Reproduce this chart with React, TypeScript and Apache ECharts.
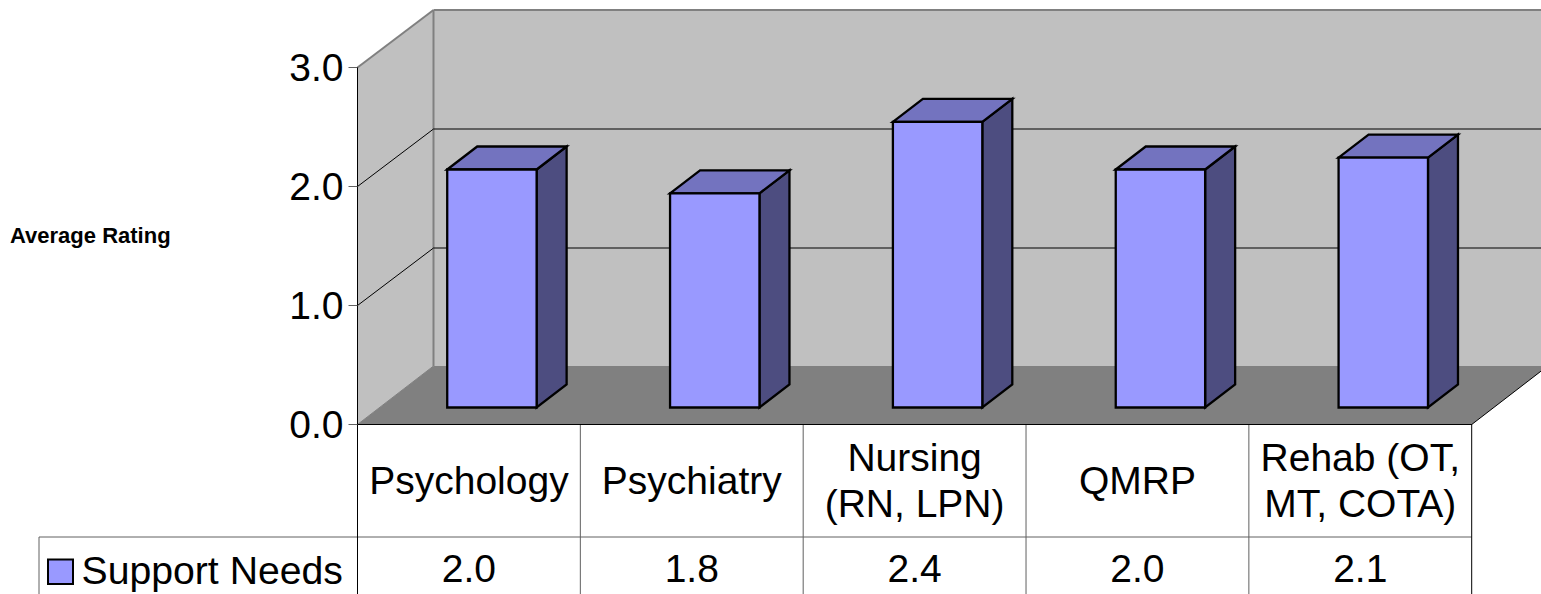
import React, { useEffect, useRef } from "react";
import * as echarts from "echarts";

const categories = ["Psychology", "Psychiatry", "Nursing\n(RN, LPN)", "QMRP", "Rehab (OT,\nMT, COTA)"];
const seriesName = "Support Needs";
const supportNeeds = [2.0, 1.8, 2.4, 2.0, 2.1];
const valueTicks = [0, 1, 2, 3];
const axisTitle = "Average Rating";

const FONT = "Liberation Sans, Arial, sans-serif";
const FONT_SIZE = 39;
const WALL_DX = 76;
const WALL_DY = -57.5;
const FLOOR_DY = -58.5;
const BAR_DX = 23;
const BAR_DY = -17;
const BAR_HALF = 44.7;
const BAR_DEPTH_X = 30;
const BAR_DEPTH_Y = -23;
const PAGE_H = 594;

function renderFrame(params: any, api: any) {
  if (params.dataIndex !== 0) return { type: "group", children: [] };
  const cs = params.coordSys;
  const left = cs.x;
  const right = cs.x + cs.width;
  const top = api.coord([0, valueTicks[valueTicks.length - 1]])[1];
  const bottom = api.coord([0, 0])[1];
  const gray = "#808080";
  const poly = (points: number[][], fill: string, stroke = "none", lineWidth = 0) => ({
    type: "polygon",
    shape: { points },
    style: { fill, stroke, lineWidth },
  });
  const line = (x1: number, y1: number, x2: number, y2: number, stroke: string, lineWidth = 1) => ({
    type: "line",
    shape: { x1, y1, x2, y2 },
    style: { stroke, lineWidth, fill: "none" },
  });
  const bl = left + WALL_DX;
  const br = right + WALL_DX;
  const bTop = top + WALL_DY;
  const bBottom = bottom + FLOOR_DY;
  const children: any[] = [
    poly([[left, top], [bl, bTop], [br, bTop], [br, bBottom], [bl, bBottom], [left, bottom]], "#C0C0C0"),
    poly([[left, bottom], [bl, bBottom], [br, bBottom], [right, bottom]], gray),
    line(left, top, bl, bTop, gray, 2),
    line(bl, bTop, br, bTop, gray, 2),
    line(bl, bTop, bl, bBottom, gray, 2),
    line(left, bottom, bl, bBottom, gray, 1),
    line(right, bottom, br, bBottom, "#000", 1),
  ];
  valueTicks.slice(1, -1).forEach((t) => {
    const y = api.coord([0, t])[1];
    children.push(line(left, y, bl, y + WALL_DY, "#000", 1));
    children.push(line(bl, y + WALL_DY, br, y + WALL_DY, "#000", 1));
  });
  const rowY = 537;
  const step = cs.width / categories.length;
  for (let i = 1; i < categories.length; i++) {
    children.push(line(left + step * i, bottom, left + step * i, PAGE_H, "#606060", 1));
  }
  children.push(line(39, rowY, right, rowY, "#606060", 1));
  children.push(line(39, rowY, 39, PAGE_H, "#606060", 1));
  children.push(line(left, bottom, left, PAGE_H, "#000", 1));
  children.push(line(right, bottom, right, PAGE_H, "#000", 1));
  children.push({
    type: "rect",
    shape: { x: 48, y: 559.5, width: 25, height: 24.5 },
    style: { fill: "#9999FF", stroke: "#000", lineWidth: 2 },
  });
  return { type: "group", children };
}

function renderBar(_params: any, api: any) {
  const idx = api.value(0);
  const [cx, topRaw] = api.coord([idx, api.value(1)]);
  const bottomRaw = api.coord([idx, 0])[1];
  const x0 = cx + BAR_DX - BAR_HALF;
  const x1 = cx + BAR_DX + BAR_HALF;
  const yT = topRaw + BAR_DY;
  const yB = bottomRaw + BAR_DY;
  const dx = BAR_DEPTH_X;
  const dy = BAR_DEPTH_Y;
  const face = (points: number[][], fill: string) => ({
    type: "polygon",
    shape: { points },
    style: { fill, stroke: "#000", lineWidth: 2.3, lineJoin: "miter" },
  });
  return {
    type: "group",
    children: [
      face([[x1, yT], [x1 + dx, yT + dy], [x1 + dx, yB + dy], [x1, yB]], "#4D4D80"),
      face([[x0, yT], [x0 + dx, yT + dy], [x1 + dx, yT + dy], [x1, yT]], "#7373BF"),
      face([[x0, yT], [x1, yT], [x1, yB], [x0, yB]], "#9999FF"),
    ],
  };
}

export default function App() {
  const ref = useRef<HTMLDivElement>(null);
  useEffect(() => {
    document.body.style.margin = "0";
    document.body.style.overflow = "hidden";
    const chart = echarts.init(ref.current!, null, { renderer: "svg" });
    const rows = supportNeeds.map((v, i) => [i, v]);
    chart.setOption({
      animation: false,
      textStyle: { fontFamily: FONT },
      grid: { left: 357.5, top: 67.5, width: 1114.2, height: 357, containLabel: false },
      legend: {
        data: [seriesName],
        left: 47.5,
        top: 551,
        padding: 0,
        itemWidth: 25,
        itemHeight: 25,
        selectedMode: false,
        icon: "rect",
        itemStyle: { color: "transparent", borderColor: "transparent", borderWidth: 0 },
        textStyle: { fontSize: 39.2, color: "#000", fontFamily: FONT, padding: [0, 0, 0, 4] },
      },
      graphic: [
        {
          type: "text",
          x: 10,
          y: 235,
          style: {
            text: axisTitle,
            fill: "#000",
            font: `bold 22px ${FONT}`,
            verticalAlign: "middle",
          },
        },
      ],
      xAxis: [
        {
          type: "category",
          data: categories,
          z: 6,
          axisLine: { show: true, lineStyle: { color: "#000", width: 1 } },
          axisTick: { show: false },
          axisLabel: {
            interval: 0,
            margin: 56,
            verticalAlign: "middle",
            fontSize: FONT_SIZE,
            lineHeight: 46,
            color: "#000",
            fontFamily: FONT,
          },
        },
        {
          type: "category",
          position: "bottom",
          offset: 113,
          data: supportNeeds.map((v) => v.toFixed(1)),
          axisLine: { show: false },
          axisTick: { show: false },
          axisLabel: {
            interval: 0,
            margin: 31,
            verticalAlign: "middle",
            fontSize: FONT_SIZE,
            color: "#000",
            fontFamily: FONT,
          },
        },
      ],
      yAxis: {
        type: "value",
        min: 0,
        max: 3,
        interval: 1,
        z: 6,
        splitLine: { show: false },
        axisLine: { show: true, lineStyle: { color: "#000", width: 1 } },
        axisTick: { show: true, length: 9, lineStyle: { color: "#606060", width: 1 } },
        axisLabel: {
          margin: 14,
          fontSize: FONT_SIZE,
          color: "#000",
          fontFamily: FONT,
          formatter: (v: number) => v.toFixed(1),
        },
      },
      series: [
        {
          type: "custom",
          name: "frame",
          z: 1,
          silent: true,
          renderItem: renderFrame,
          encode: { x: 0, y: 1 },
          data: rows,
        },
        {
          type: "custom",
          name: seriesName,
          z: 3,
          silent: true,
          renderItem: renderBar,
          encode: { x: 0, y: 1 },
          itemStyle: { color: "#9999FF", borderColor: "#000", borderWidth: 2 },
          data: rows,
        },
      ],
    });
    return () => chart.dispose();
  }, []);
  return <div ref={ref} style={{ width: 1541, height: 594 }} />;
}
